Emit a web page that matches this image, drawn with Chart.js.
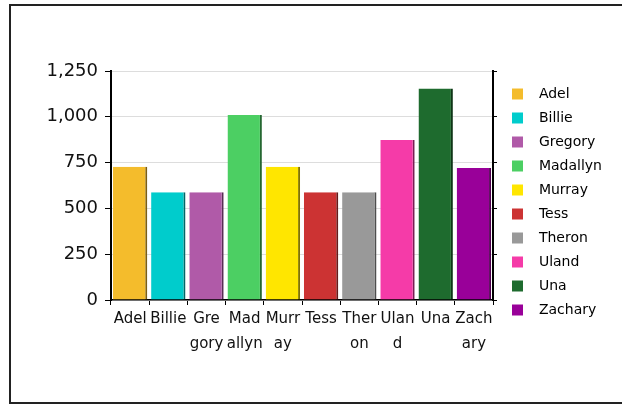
<!DOCTYPE html>
<html>
<head>
<meta charset="utf-8">
<script src="https://cdn.jsdelivr.net/npm/chart.js@4.4.0/dist/chart.umd.min.js"></script>
<style>
  html, body { margin: 0; padding: 0; background: #fff; overflow: hidden; }
  #frame { position: absolute; left: 9px; top: 4px; width: 640px; height: 396px; border: 2px solid #222; border-right: none; }
  #chart { position: absolute; left: 0; top: 0; }
</style>
</head>
<body>
<div id="frame"></div>
<canvas id="chart" width="622" height="404"></canvas>
<script>
// Chart data
const categories = ['Adel', 'Billie', 'Gregory', 'Madallyn', 'Murray', 'Tess', 'Theron', 'Uland', 'Una', 'Zachary'];
const values = [727, 588, 588, 1010, 727, 588, 588, 873, 1154, 720];
const tickLabels = [['Adel'], ['Billie'], ['Gre', 'gory'], ['Mad', 'allyn'], ['Murr', 'ay'], ['Tess'], ['Ther', 'on'], ['Ulan', 'd'], ['Una'], ['Zach', 'ary']];
const yTicks = [0, 250, 500, 750, 1000, 1250];

// Colours
const barColors = ['#F4BC2C', '#00CCCC', '#B05AA8', '#4CCF63', '#FFE600', '#CC3333', '#999999', '#F53BA8', '#1E6B2E', '#990099'];
const edgeColors = ['#7a5e16', '#006666', '#582d54', '#266832', '#807300', '#661a1a', '#4d4d4d', '#7a1d54', '#0f3617', '#4d004d'];

const FONT = 'DejaVu Sans';

// fix the legend box width so the plot area lands where it should
const legendWidthFix = {
    id: 'legendWidthFix',
    beforeUpdate(chart) {
        const lg = chart.legend;
        if (lg && !lg._fixed) {
            const fit = lg.fit;
            lg.fit = function () { fit.call(this); this.width = 120; };
            lg._fixed = true;
        }
    }
};

const ctx = document.getElementById('chart').getContext('2d');
const chart = new Chart(ctx, {
    type: 'bar',
    data: {
        labels: tickLabels,
        datasets: [{
            data: values,
            backgroundColor: barColors,
            borderColor: edgeColors,
            borderWidth: { top: 0, right: 2, bottom: 0, left: 0 },
            borderSkipped: false,
            barPercentage: 0.9,
            categoryPercentage: 1
        }]
    },
    options: {
        responsive: false,
        devicePixelRatio: 1,
        animation: false,
        layout: { padding: 0 },
        plugins: {
            tooltip: { enabled: false },
            legend: {
                position: 'right',
                labels: {
                    boxWidth: 11,
                    boxHeight: 11,
                    padding: 10,
                    color: '#111',
                    font: { family: FONT, size: 14 },
                    generateLabels: () => categories.map((name, i) => ({
                        text: '  ' + name,
                        fillStyle: barColors[i],
                        strokeStyle: barColors[i],
                        lineWidth: 0,
                        hidden: false,
                        index: i,
                        datasetIndex: 0
                    }))
                }
            }
        },
        scales: {
            x: {
                position: 'bottom',
                grid: { offset: true, drawOnChartArea: false, color: '#000', tickColor: '#000', tickLength: 5 },
                border: { color: '#000', width: 1.5 },
                ticks: { color: '#111', padding: 2, maxRotation: 0, autoSkip: false, font: { family: FONT, size: 15, lineHeight: 1.65 } },
                afterFit: s => { s.height = 104; }
            },
            xTop: {
                type: 'category',
                position: 'top',
                grid: { display: false },
                border: { display: false },
                ticks: { display: false },
                afterFit: s => { s.height = 71; }
            },
            y: {
                position: 'left',
                min: 0,
                max: 1250,
                afterBuildTicks: s => { s.ticks = yTicks.map(v => ({ value: v })); },
                grid: { color: '#dddddd', tickColor: '#000', tickLength: 6 },
                border: { color: '#000', width: 2 },
                ticks: {
                    color: '#111',
                    padding: 7,
                    font: { family: FONT, size: 18 },
                    callback: v => v.toLocaleString('en-US')
                },
                afterFit: s => { s.width = 111; }
            },
            y2: {
                position: 'right',
                min: 0,
                max: 1250,
                afterBuildTicks: s => { s.ticks = yTicks.map(v => ({ value: v })); },
                grid: { drawOnChartArea: false, tickColor: '#000', tickLength: 4 },
                border: { color: '#000', width: 2 },
                ticks: { display: false },
                afterFit: s => { s.width = 9; }
            }
        }
    },
    plugins: [legendWidthFix]
});
</script>
</body>
</html>
